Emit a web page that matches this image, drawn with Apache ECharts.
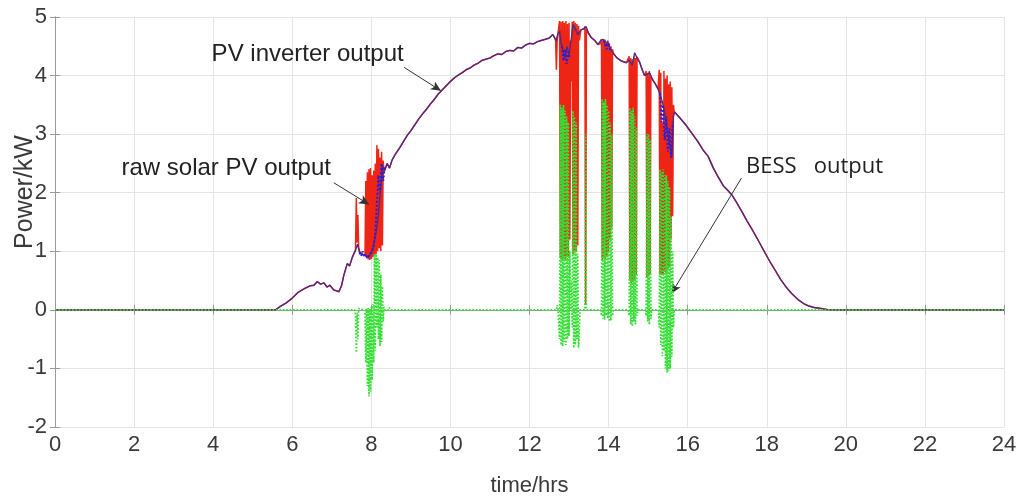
<!DOCTYPE html>
<html><head><meta charset="utf-8">
<script src="https://cdn.jsdelivr.net/npm/echarts@6/dist/echarts.min.js"></script>
<style>html,body{margin:0;padding:0;background:#fff}#c{width:1021px;height:502px}</style>
</head><body><div id="c"></div>
<script>
// ---- data (hours, kW) ----
const xTicks = [0,2,4,6,8,10,12,14,16,18,20,22,24];
const yTicks = [-2,-1,0,1,2,3,4,5];

// PV inverter output (smoothed)
const pvInverter = [[0,0],[5.58,0],[5.7,0.06],[5.85,0.12],[6.0,0.2],[6.15,0.3],[6.3,0.36],[6.45,0.41],[6.55,0.42],[6.63,0.48],[6.72,0.44],[6.8,0.46],[6.88,0.39],[6.95,0.42],[7.05,0.34],[7.18,0.31],[7.25,0.42],[7.3,0.58],[7.34,0.55],[7.39,0.79],[7.45,0.75],[7.52,0.9],[7.6,1.02],[7.65,1.12],[7.7,0.98],[7.78,0.95],[7.86,0.92],[7.94,0.9],[8.02,1.0],[8.1,1.25],[8.16,1.5],[8.22,1.95],[8.28,2.45],[8.34,2.38],[8.4,2.5],[8.46,2.42],[8.52,2.55],[8.6,2.65],[8.7,2.75],[8.8,2.86],[8.9,2.97],[9.0,3.06],[9.1,3.16],[9.2,3.26],[9.3,3.35],[9.4,3.43],[9.5,3.52],[9.6,3.6],[9.7,3.69],[9.8,3.76],[9.9,3.83],[10.0,3.9],[10.1,3.96],[10.2,4.01],[10.3,4.05],[10.4,4.1],[10.5,4.13],[10.6,4.18],[10.7,4.21],[10.8,4.26],[10.9,4.28],[11.0,4.3],[11.1,4.34],[11.2,4.37],[11.3,4.36],[11.4,4.41],[11.5,4.43],[11.6,4.42],[11.7,4.48],[11.8,4.47],[11.9,4.52],[12.0,4.55],[12.1,4.54],[12.2,4.58],[12.3,4.6],[12.4,4.62],[12.5,4.64],[12.59,4.7],[12.67,4.59],[12.72,4.72],[12.76,4.76],[12.8,4.55],[12.85,4.42],[12.9,4.3],[12.95,4.5],[13.0,4.35],[13.05,4.6],[13.1,4.87],[13.16,4.8],[13.22,4.7],[13.3,4.78],[13.38,4.8],[13.43,4.84],[13.5,4.72],[13.56,4.65],[13.65,4.6],[13.73,4.53],[13.8,4.6],[13.86,4.62],[13.92,4.5],[13.98,4.58],[14.05,4.45],[14.12,4.38],[14.2,4.31],[14.32,4.25],[14.45,4.22],[14.52,4.26],[14.6,4.18],[14.66,4.39],[14.72,4.3],[14.79,4.22],[14.85,4.1],[14.91,4.0],[14.97,4.02],[15.04,4.05],[15.1,3.95],[15.18,3.86],[15.25,3.77],[15.3,3.68],[15.36,3.55],[15.42,3.35],[15.48,3.1],[15.54,2.85],[15.6,2.6],[15.64,3.3],[15.67,3.38],[15.8,3.28],[15.95,3.16],[16.1,3.02],[16.25,2.88],[16.4,2.72],[16.52,2.62],[16.65,2.42],[16.77,2.27],[16.9,2.12],[17.0,2.05],[17.11,1.97],[17.25,1.82],[17.36,1.69],[17.5,1.52],[17.65,1.35],[17.79,1.18],[17.95,0.98],[18.1,0.8],[18.21,0.68],[18.35,0.52],[18.5,0.38],[18.63,0.28],[18.8,0.17],[18.95,0.1],[19.05,0.07],[19.2,0.04],[19.4,0.02],[19.56,0],[24,0]];

// raw solar PV output during cloud transients (elsewhere equal to inverter output)
const rawBurst1 = [[7.60,1.02],[7.62,1.91],[7.64,1.15],[7.66,1.62],[7.68,1.08],[7.70,1.0]];
const rawBurst2 = [[7.84,0.93],[7.86,2.2],[7.88,0.88],[7.90,2.35],[7.92,0.86],[7.94,2.4],[7.96,0.85],[7.98,2.42],[8.00,0.87],[8.02,2.3],[8.04,0.9],[8.06,2.38],[8.08,0.92],[8.10,2.5],[8.12,0.95],[8.14,2.81],[8.16,1.0],[8.18,2.75],[8.20,1.05],[8.22,2.6],[8.24,1.0],[8.26,2.7],[8.28,1.1],[8.30,2.55],[8.32,2.36]];
const rawBurst3 = [[12.66,4.62],[12.68,4.1],[12.70,4.6]];
const rawBurst4 = [[12.74,4.74],[12.76,4.93],[12.78,0.9],[12.80,4.92],[12.82,0.85],[12.84,4.93],[12.86,0.88],[12.88,4.9],[12.90,0.86],[12.92,4.93],[12.94,0.9],[12.96,4.88],[12.98,0.92],[13.00,4.9],[13.02,1.2],[13.04,4.6],[13.06,3.9],[13.08,4.92],[13.10,0.95],[13.12,4.93],[13.14,0.98],[13.16,4.9],[13.18,1.0],[13.20,4.88],[13.22,1.1],[13.24,4.85],[13.26,4.6],[13.30,4.78]];
const rawBurst5 = [[13.38,4.8],[13.40,4.84],[13.42,0.1],[13.44,4.8],[13.46,4.75]];
const rawBurst6 = [[13.80,4.55],[13.82,4.62],[13.84,0.85],[13.86,4.6],[13.88,0.88],[13.90,4.62],[13.92,0.86],[13.94,4.58],[13.96,0.9],[13.98,4.6],[14.00,1.0],[14.02,4.55],[14.04,1.2],[14.06,4.5],[14.08,1.4],[14.10,4.45]];
const rawBurst7 = [[14.50,4.22],[14.52,4.33],[14.54,0.5],[14.56,4.3],[14.58,0.45],[14.60,4.28],[14.62,0.48],[14.64,4.33],[14.66,0.5],[14.68,4.3],[14.70,0.6],[14.72,4.32]];
const rawBurst8 = [[14.93,4.02],[14.95,4.08],[14.97,0.56],[14.99,4.05],[15.01,0.58],[15.03,4.08],[15.05,0.6],[15.07,4.0],[15.09,3.95]];
const rawBurst9 = [[15.26,3.8],[15.28,4.1],[15.30,0.6],[15.32,4.05],[15.34,0.62],[15.36,3.2],[15.38,0.6],[15.40,4.08],[15.42,0.65],[15.44,3.95],[15.46,0.62],[15.48,4.0],[15.50,0.7],[15.52,3.85],[15.54,0.75],[15.56,3.9],[15.58,1.2],[15.60,3.8],[15.62,1.6],[15.64,3.5],[15.66,3.38]];

// BESS output (zero outside the listed transients)
const bessBurst1 = [[7.58,0],[7.60,-0.1],[7.62,-0.73],[7.64,-0.05],[7.66,-0.5],[7.68,0.02],[7.70,0]];
const bessBurst2 = [[7.84,0],[7.86,-0.9],[7.88,0.02],[7.90,-1.3],[7.92,0.03],[7.94,-1.48],[7.96,0.02],[7.98,-1.4],[8.00,0.05],[8.02,-1.2],[8.04,0.1],[8.06,-0.9],[8.08,0.96],[8.10,-0.7],[8.12,0.95],[8.14,-0.3],[8.16,0.9],[8.18,-0.5],[8.20,0.85],[8.22,-0.62],[8.24,0.6],[8.26,-0.55],[8.28,0.4],[8.30,-0.2],[8.32,0.05],[8.34,0],[8.44,0],[8.46,0.04],[8.48,0]];
const bessBurst3 = [[12.68,0],[12.70,0.08],[12.72,0],[12.74,0],[12.76,-0.5],[12.78,3.5],[12.80,-0.6],[12.82,3.45],[12.84,-0.62],[12.86,3.5],[12.88,-0.55],[12.90,3.4],[12.92,-0.6],[12.94,3.3],[12.96,-0.5],[12.98,3.2],[13.00,-0.45],[13.02,1.0],[13.04,0],[13.06,0.5],[13.08,-0.3],[13.10,3.4],[13.12,-0.65],[13.14,3.3],[13.16,-0.6],[13.18,3.2],[13.20,-0.5],[13.22,0.96],[13.24,-0.65],[13.28,0]];
const bessBurst4 = [[13.40,0],[13.42,3.0],[13.44,0]];
const bessBurst5 = [[13.80,0],[13.82,-0.1],[13.84,3.6],[13.86,-0.15],[13.88,3.55],[13.90,-0.17],[13.92,3.6],[13.94,-0.1],[13.96,3.5],[13.98,-0.15],[14.00,3.4],[14.02,-0.2],[14.04,3.2],[14.06,-0.18],[14.08,3.0],[14.10,-0.1],[14.12,0]];
const bessBurst6 = [[14.50,0],[14.52,-0.1],[14.54,3.45],[14.56,-0.25],[14.58,3.4],[14.60,-0.28],[14.62,3.45],[14.64,-0.2],[14.66,3.3],[14.68,-0.25],[14.70,3.1],[14.72,-0.1],[14.74,0]];
const bessBurst7 = [[14.93,0],[14.95,-0.1],[14.97,3.0],[14.99,-0.2],[15.01,3.0],[15.03,-0.25],[15.05,2.9],[15.07,-0.15],[15.09,0]];
const bessBurst8 = [[15.26,0],[15.28,-0.3],[15.30,2.4],[15.32,-0.6],[15.34,2.35],[15.36,-0.79],[15.38,2.4],[15.40,-0.7],[15.42,2.3],[15.44,-1.0],[15.46,2.3],[15.48,-1.07],[15.50,2.2],[15.52,-1.05],[15.54,2.1],[15.56,-1.0],[15.58,1.6],[15.60,-0.8],[15.62,1.0],[15.64,-0.3],[15.66,0],[16.68,0],[16.70,0.03],[16.72,0]];

// inverter set-point markers (blue dotted) during transients
const setBurst1 = [[7.70,0.98],[7.74,0.92],[7.78,1.0],[7.82,0.9],[7.86,0.95],[7.90,0.88],[7.94,0.93],[7.98,0.9],[8.02,1.0],[8.06,1.1],[8.10,1.3],[8.14,1.8],[8.18,2.3],[8.22,2.0],[8.26,2.5],[8.30,2.2],[8.34,2.45]];
const setBurst2 = [[12.82,4.5],[12.86,4.25],[12.90,4.45],[12.94,4.2],[12.98,4.4],[13.02,4.3]];
const setBurst3 = [[13.90,4.6],[13.95,4.45],[14.00,4.55],[14.05,4.4]];
const setBurst4 = [[15.30,3.7],[15.34,3.2],[15.38,3.5],[15.42,2.9],[15.46,3.3],[15.50,2.7],[15.54,3.1],[15.58,2.6],[15.62,3.2]];

// ---- build full series ----
const rawBursts = [rawBurst1,rawBurst2,rawBurst3,rawBurst4,rawBurst5,rawBurst6,rawBurst7,rawBurst8,rawBurst9];
const inBurst = t => rawBursts.some(b => t >= b[0][0] && t <= b[b.length-1][0]);
const rawPV = pvInverter.filter(p => !inBurst(p[0])).concat(...rawBursts).sort((a,b)=>a[0]-b[0]);
const bess = [[0,0]].concat(bessBurst1,bessBurst2,bessBurst3,bessBurst4,bessBurst5,bessBurst6,bessBurst7,bessBurst8,[[24,0]]);
const setPts = [].concat(setBurst1,[[8.36,null]],setBurst2,[[13.04,null]],setBurst3,[[14.07,null]],setBurst4);

const FONT = 'Liberation Sans, Arial, sans-serif';
const chart = echarts.init(document.getElementById('c'));
const axisLine = {show:true, lineStyle:{color:'#9a9a9a', width:1}};
const tick = {show:true, inside:true, length:5, lineStyle:{color:'#9a9a9a'}};
chart.setOption({
  animation:false,
  backgroundColor:'#fff',
  grid:{left:55, right:17, top:17, bottom:70, containLabel:false},
  xAxis:[{
    type:'value', min:xTicks[0], max:xTicks[xTicks.length-1], interval:xTicks[1]-xTicks[0],
    axisLine, axisTick:tick,
    axisLabel:{fontSize:22, color:'#3a3a3a', fontFamily:FONT, margin:7},
    splitLine:{show:true, lineStyle:{color:'#e4e4e4', width:1}},
    name:'time/hrs', nameLocation:'middle', nameGap:48,
    nameTextStyle:{fontSize:22, color:'#3a3a3a', fontFamily:FONT}
  },{
    type:'value', position:'top', min:xTicks[0], max:xTicks[xTicks.length-1], interval:xTicks[1]-xTicks[0],
    axisLine, axisTick:tick, axisLabel:{show:false}, splitLine:{show:false}
  }],
  yAxis:[{
    type:'value', min:yTicks[0], max:yTicks[yTicks.length-1], interval:yTicks[1]-yTicks[0],
    axisLine, axisTick:tick,
    axisLabel:{fontSize:22, color:'#3a3a3a', fontFamily:FONT, margin:8},
    splitLine:{show:true, lineStyle:{color:'#e4e4e4', width:1}}
  },{
    type:'value', position:'right', min:yTicks[0], max:yTicks[yTicks.length-1], interval:yTicks[1]-yTicks[0],
    axisLine, axisTick:tick, axisLabel:{show:false}, splitLine:{show:false}
  }],
  graphic:[{type:'text', x:25, y:192, rotation:Math.PI/2,
    style:{text:'Power/kW', fontSize:25, fill:'#3a3a3a', fontFamily:FONT, align:'center', verticalAlign:'middle'}}],
  series:[
    {name:'raw solar PV output', type:'line', data:rawPV, showSymbol:false, symbol:'none',
     lineStyle:{color:'#ee2414', width:1.5}, z:2},
    {name:'PV inverter output', type:'line', data:pvInverter, showSymbol:false, symbol:'none',
     lineStyle:{color:'#4b2a8a', width:1.3}, z:3,
     markLine:{silent:true, symbol:['none','arrow'], symbolSize:[7,10], label:{show:false},
       lineStyle:{color:'#333', width:1, type:'solid'},
       data:[
         [{coord:[8.83,4.14]},{coord:[9.76,3.74]}],
         [{coord:[7.05,2.17]},{coord:[7.94,1.80]}],
         [{coord:[17.36,2.25]},{coord:[15.59,0.28]}]
       ]},
     markPoint:{silent:true, symbol:'rect', symbolSize:0,
       label:{show:true, position:'inside', color:'#222', fontSize:24, fontFamily:FONT},
       data:[
         {coord:[6.39,4.36], value:'PV inverter output', label:{formatter:'PV inverter output'}},
         {coord:[4.33,2.42], value:'raw solar PV output', label:{formatter:'raw solar PV output'}},
         {coord:[19.21,2.45], value:'BESS   output', label:{formatter:'BESS   output', fontSize:22, fontFamily:'Open Sans, Liberation Sans, sans-serif'}}
       ]}
    },
    {name:'inverter set-point', type:'line', data:setPts, showSymbol:false, symbol:'none', connectNulls:false,
     lineStyle:{color:'#2020e0', width:2, type:'dotted'}, z:4},
    {name:'BESS output', type:'line', data:bess, showSymbol:false, symbol:'none',
     lineStyle:{color:'#33e033', width:1.7, type:'dotted'}, z:5}
  ]
});
</script></body></html>
